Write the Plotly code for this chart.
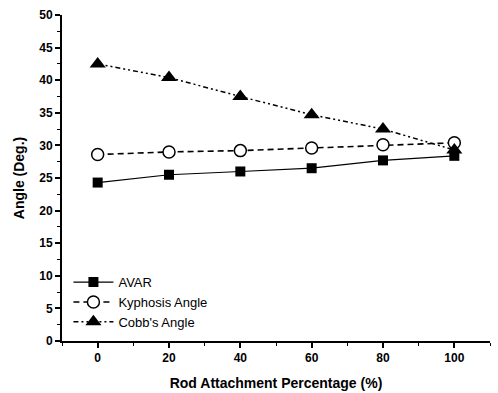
import plotly.graph_objects as go

x_pct = [0, 20, 40, 60, 80, 100]
avar = [24.3, 25.5, 26.0, 26.5, 27.7, 28.4]
kyphosis = [28.6, 29.0, 29.2, 29.6, 30.1, 30.4]
cobb = [42.5, 40.4, 37.5, 34.7, 32.5, 29.3]

fig = go.Figure()
fig.add_trace(go.Scatter(x=x_pct, y=avar, name="AVAR", mode="lines+markers",
                         line=dict(color="black", width=1.2),
                         marker=dict(symbol="square", size=10, color="black")))
fig.add_trace(go.Scatter(x=x_pct, y=kyphosis, name="Kyphosis Angle", mode="lines+markers",
                         line=dict(color="black", width=1.6, dash="6px,4px"),
                         marker=dict(symbol="circle", size=12, color="white",
                                     line=dict(color="black", width=1.5))))
fig.add_trace(go.Scatter(x=x_pct, y=cobb, name="Cobb's Angle", mode="lines+markers",
                         line=dict(color="black", width=1.5, dash="5px,3px,2px,3px,2px,3px"),
                         marker=dict(symbol="triangle-up", size=14, color="black")))

axis_common = dict(showline=True, linecolor="black", linewidth=2, ticks="outside",
                   ticklen=5, tickwidth=1.5, tickcolor="black", showgrid=False,
                   zeroline=False, mirror=False, automargin=False,
                   tickfont=dict(family="Liberation Sans, Arial", size=12, color="black",
                                 weight="bold"))

fig.update_xaxes(range=[-10, 110], tickvals=[0, 20, 40, 60, 80, 100],
                 minor=dict(ticks="outside", ticklen=3, tickwidth=1.2, tickcolor="black",
                            dtick=10, tick0=0),
                 title=dict(text="Rod Attachment Percentage (%)",
                            font=dict(family="Liberation Sans, Arial", size=14,
                                      color="black", weight="bold"), standoff=14),
                 **axis_common)
fig.update_yaxes(range=[0, 50], dtick=5,
                 minor=dict(ticks="outside", ticklen=3, tickwidth=1.2, tickcolor="black",
                            dtick=2.5, tick0=0),
                 title=dict(text="Angle (Deg.)",
                            font=dict(family="Liberation Sans, Arial", size=14,
                                      color="black", weight="bold"), standoff=11),
                 **axis_common)

fig.update_layout(width=498, height=393, margin=dict(l=62, r=8, t=15, b=52),
                  plot_bgcolor="white", paper_bgcolor="white",
                  legend=dict(x=0.015, y=0.012, xanchor="left", yanchor="bottom",
                              bgcolor="rgba(0,0,0,0)", tracegroupgap=0,
                              font=dict(family="Liberation Sans, Arial", size=13, color="black"),
                              itemwidth=40),
                  showlegend=True)

fig.write_html("out.html")
